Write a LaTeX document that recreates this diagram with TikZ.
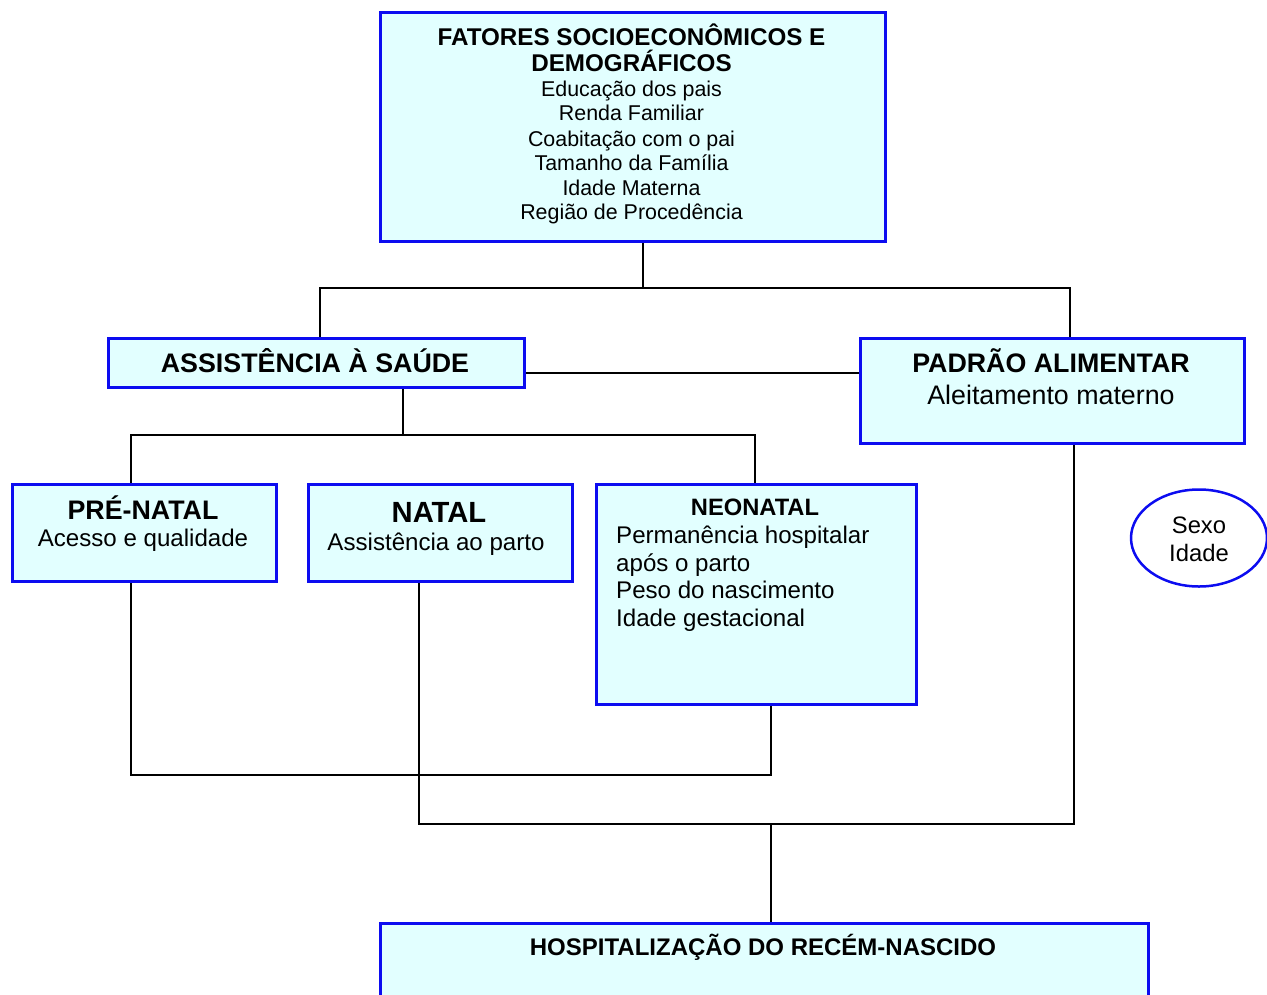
\documentclass[tikz,border=0pt]{standalone}
\usepackage{fontspec}
\setmainfont{Liberation Sans}
\usetikzlibrary{shapes.geometric}
\definecolor{boxfill}{RGB}{226,255,255}
\definecolor{boxline}{RGB}{12,12,240}
\pgfdeclarelayer{bg}
\pgfsetlayers{bg,main}
\begin{document}
\begin{tikzpicture}[x=1pt,y=-1pt,
  box/.style={draw=boxline, fill=boxfill, line width=2.5pt, rectangle, inner sep=0pt, anchor=north west},
  oval/.style={draw=boxline, fill=white, line width=2.5pt, ellipse, inner sep=0pt},
  link/.style={draw=black, line width=2pt},
  txt/.style={inner sep=0pt, anchor=base, font=\fontsize{#1}{#1}\selectfont},
  txtl/.style={inner sep=0pt, anchor=base west, font=\fontsize{#1}{#1}\selectfont}]
\useasboundingbox (0,0) rectangle (1267,994);

% boxes
\node[box, minimum width=505pt, minimum height=229pt] (fat) at (379,11) {};
\node[box, minimum width=416pt, minimum height=49pt] (ass) at (107,337) {};
\node[box, minimum width=384pt, minimum height=105pt] (pad) at (859,337) {};
\node[box, minimum width=264pt, minimum height=97pt] (pre) at (11,483) {};
\node[box, minimum width=264pt, minimum height=97pt] (nat) at (307,483) {};
\node[box, minimum width=320pt, minimum height=220pt] (neo) at (595,483) {};
\node[box, minimum width=768pt, minimum height=100pt] (hos) at (379,922) {};
\node[oval, minimum width=136pt, minimum height=97pt] (sex) at (1199,538) {};

% texts
\node[txt=24.2] (f1) at (631.5,45) {\bfseries FATORES SOCIOECONÔMICOS E};
\node[txt=24.2] (f2) at (631.5,71) {\bfseries DEMOGRÁFICOS};
\node[txt=21.4] (f3) at (631.5,96.7) {Educação dos pais};
\node[txt=21.4] (f4) at (631.5,120.7) {Renda Familiar};
\node[txt=21.4] (f5) at (631.5,146) {Coabitação com o pai};
\node[txt=21.4] (f6) at (631.5,170) {Tamanho da Família};
\node[txt=21.4] (f7) at (631.5,195) {Idade Materna};
\node[txt=21.4] (f8) at (631.5,219) {Região de Procedência};

\node[txt=26.8] (a1t) at (315,372.5) {\bfseries ASSISTÊNCIA À SAÚDE};

\node[txt=26.8] (p1) at (1051,372.5) {\bfseries PADRÃO ALIMENTAR};
\node[txt=26.8] (p2) at (1051,404) {Aleitamento materno};

\node[txt=26.8] (pr1) at (143,519) {\bfseries PRÉ-NATAL};
\node[txt=24.1] (pr2) at (143,546.7) {Acesso e qualidade};

\node[txt=29.2] (n1) at (439,522.7) {\bfseries NATAL};
\node[txt=24.1] (n2) at (436,550) {Assistência ao parto};

\node[txt=23.7] (ne1) at (755,515.7) {\bfseries NEONATAL};
\node[txtl=24.1] (ne2) at (616,543.3) {Permanência hospitalar};
\node[txtl=24.1] (ne3) at (616,571) {após o parto};
\node[txtl=24.1] (ne4) at (616,598.3) {Peso do nascimento};
\node[txtl=24.1] (ne5) at (616,626.5) {Idade gestacional};

\node[txt=23.8] (s1) at (1199,533.3) {Sexo};
\node[txt=23.8] (s2) at (1199,561.7) {Idade};

\node[txt=24] (h1t) at (763,955) {\bfseries HOSPITALIZAÇÃO DO RECÉM-NASCIDO};

% connectors
\coordinate (j1) at (643,288);
\coordinate (ja) at (320,288);
\coordinate (jb) at (1070,288);
\coordinate (hh) at (523,373);
\coordinate (b1) at (403,435);
\coordinate (b2) at (131,435);
\coordinate (b3) at (755,435);
\coordinate (c1) at (131,775);
\coordinate (c2) at (771,775);
\coordinate (d1) at (419,824);
\coordinate (d2) at (1074,824);
\coordinate (d3) at (771,824);
\begin{pgfonlayer}{bg}
\draw[link] (j1 |- fat.south) -- (j1);
\draw[link] (ja |- ass.north) -- (ja) -- (jb) -- (jb |- pad.north);
\draw[link] (ass.east |- hh) -- (pad.west |- hh);
\draw[link] (b1 |- ass.south) -- (b1);
\draw[link] (b2 |- pre.north) -- (b2) -- (b3) -- (b3 |- neo.north);
\draw[link] (c1 |- pre.south) -- (c1) -- (c2) -- (c2 |- neo.south);
\draw[link] (d1 |- nat.south) -- (d1) -- (d2) -- (d2 |- pad.south);
\draw[link] (d3) -- (d3 |- hos.north);
\end{pgfonlayer}
\end{tikzpicture}
\end{document}
